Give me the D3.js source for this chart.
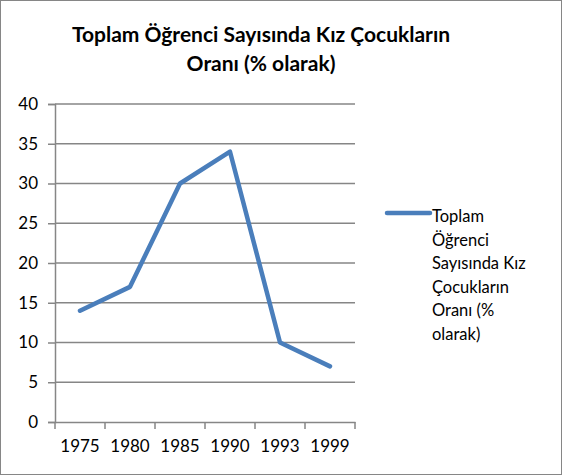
<!DOCTYPE html>
<html><head><meta charset="utf-8">
<script src="https://cdn.jsdelivr.net/npm/d3@7"></script>
<style>
html,body{margin:0;padding:0;background:#fff;}
svg{display:block;}
text{font-family:"Lato","Open Sans",sans-serif;fill:#000;}
</style></head>
<body>
<script>
const years = ["1975","1980","1985","1990","1993","1999"];
const values = [14, 17, 30, 34, 10, 7];
const yTicks = [0,5,10,15,20,25,30,35,40];
const titleLines = ["Toplam Öğrenci Sayısında Kız Çocukların", "Oranı (% olarak)"];
const legendLines = ["Toplam", "Öğrenci", "Sayısında Kız", "Çocukların", "Oranı (%", "olarak)"];

const W = 562, H = 475;
const svg = d3.select("body").append("svg").attr("width", W).attr("height", H);

svg.append("rect").attr("x",0.5).attr("y",0.5).attr("width",W-1).attr("height",H-1)
  .attr("fill","#fff").attr("stroke","#868686").attr("stroke-width",1);

const x = d3.scaleBand().domain(years).range([55,355]);
const y = d3.scaleLinear().domain([0,40]).range([422,104]);

// title
svg.append("text").attr("x",261).attr("y",42).attr("text-anchor","middle")
  .style("font-weight","bold").style("font-size","21px")
  .selectAll("tspan").data(titleLines).join("tspan")
  .attr("x",261).attr("dy",(d,i)=> i===0?0:29).text(d=>d);

// gridlines
svg.append("g").selectAll("line").data(yTicks.filter(d=>d>0)).join("line")
  .attr("x1",55).attr("x2",355).attr("y1",d=>y(d)).attr("y2",d=>y(d))
  .attr("stroke","#868686").attr("stroke-width",1.5);

// y axis
const yAxis = svg.append("g").attr("transform","translate(55,0)")
  .call(d3.axisLeft(y).tickValues(yTicks).tickSize(7).tickPadding(10));
yAxis.select(".domain").attr("stroke","#868686").attr("stroke-width",1.5);
yAxis.selectAll(".tick line").attr("stroke","#868686").attr("stroke-width",1.5);
yAxis.selectAll("text").style("font-size","17px").attr("fill","#000").style("font-family","Lato");

// x axis
const xAxis = svg.append("g").attr("transform","translate(0,422)")
  .call(d3.axisBottom(x).tickSize(0).tickPadding(18));
xAxis.select(".domain").attr("stroke","#868686").attr("stroke-width",1.5);
xAxis.selectAll(".tick line").remove();
xAxis.selectAll("text").style("font-size","17px").attr("fill","#000").style("font-family","Lato");
const bounds = years.map(d=>x(d)).concat([x.range()[1]]);
svg.append("g").selectAll("line").data(bounds).join("line")
  .attr("x1",d=>d).attr("x2",d=>d).attr("y1",422).attr("y2",429)
  .attr("stroke","#868686").attr("stroke-width",1.5);

// line
const line = d3.line().x((d,i)=>x(years[i])+x.bandwidth()/2).y(d=>y(d));
svg.append("path").datum(values).attr("d",line).attr("fill","none")
  .attr("stroke","#4a7ebb").attr("stroke-width",4.5)
  .attr("stroke-linejoin","round").attr("stroke-linecap","round");

// legend
svg.append("line").attr("x1",387).attr("x2",430).attr("y1",213).attr("y2",213)
  .attr("stroke","#4a7ebb").attr("stroke-width",4.5).attr("stroke-linecap","round");
svg.append("text").attr("x",432).attr("y",222).style("font-size","16.5px")
  .selectAll("tspan").data(legendLines).join("tspan")
  .attr("x",432).attr("dy",(d,i)=> i===0?0:23.6).text(d=>d);
</script>
</body></html>
